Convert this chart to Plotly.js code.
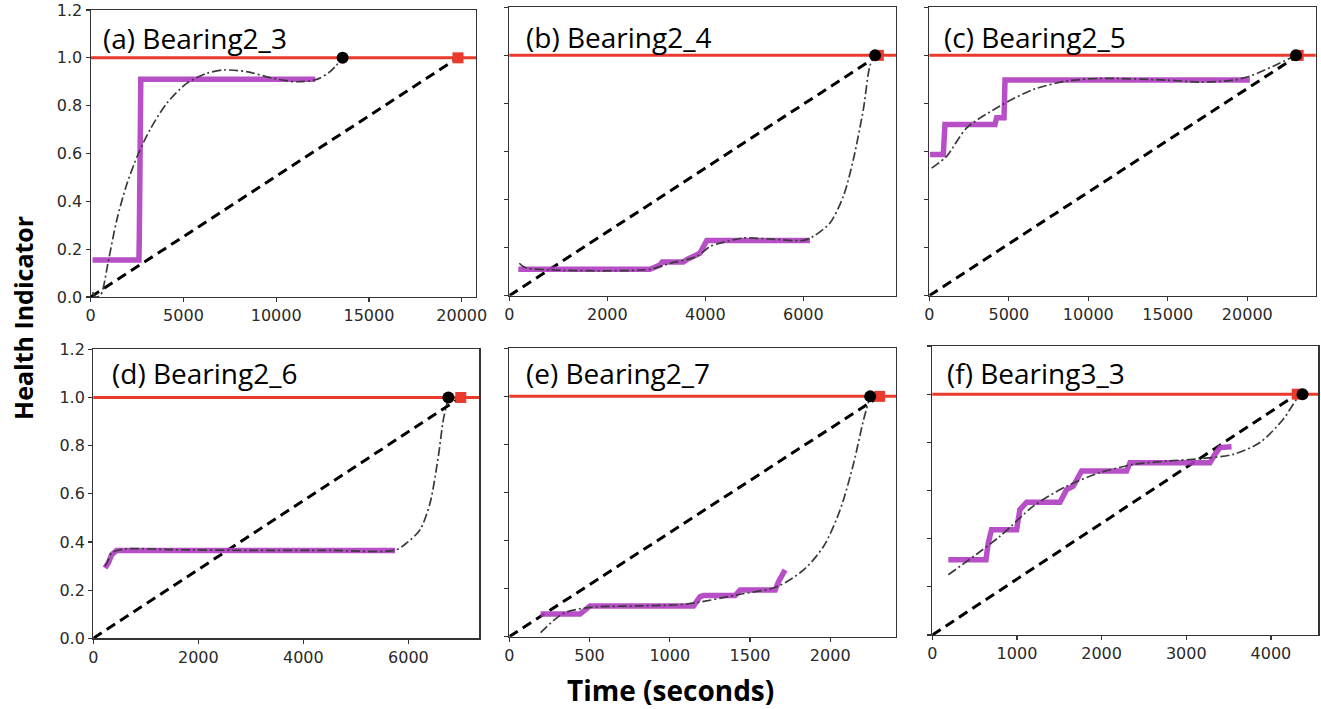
<!DOCTYPE html>
<html>
<head>
<meta charset="utf-8">
<script src="https://cdn.plot.ly/plotly-3.0.1.min.js"></script>
<style>html,body{margin:0;padding:0;background:#fff;}#chart{width:1321px;height:709px;}</style>
</head>
<body>
<div id="chart"></div>
<script>
// ---------- data ----------
const panelTitles = ["(a) Bearing2_3","(b) Bearing2_4","(c) Bearing2_5","(d) Bearing2_6","(e) Bearing2_7","(f) Bearing3_3"];
const threshold = 1.0;

// (a) Bearing2_3
const a_hiX = [100, 2600, 2620, 2630, 2640, 2650, 2660, 2680, 2700, 12100];
const a_hiY = [0.155, 0.155, 0.25, 0.40, 0.55, 0.65, 0.75, 0.85, 0.91, 0.91];
const a_fitX = [100, 300, 550, 950, 1400, 1940, 2570, 3200, 4100, 5175, 6250, 7150, 8410, 9850, 11100, 12180, 12900, 13580];
const a_fitY = [0.02, 0.0, 0.01, 0.15, 0.32, 0.47, 0.60, 0.70, 0.81, 0.893, 0.935, 0.949, 0.942, 0.914, 0.90, 0.91, 0.942, 1.0];
const a_fail = 19800, a_pred = 13580;

// (b) Bearing2_4
const b_hiX = [184, 2870, 3075, 3120, 3550, 3620, 3890, 3960, 4030, 6136];
const b_hiY = [0.110, 0.110, 0.128, 0.14, 0.14, 0.15, 0.177, 0.205, 0.23, 0.23];
const b_fitX = [204, 320, 900, 2870, 3280, 3823, 4095, 4367, 4776, 5320, 6000, 6204, 6544, 6816, 7020, 7225, 7360, 7463];
const b_fitY = [0.135, 0.117, 0.107, 0.11, 0.135, 0.163, 0.205, 0.222, 0.24, 0.236, 0.23, 0.247, 0.303, 0.414, 0.567, 0.777, 0.958, 1.0];
const b_fail = 7530, b_pred = 7463;

// (c) Bearing2_5
const c_hiX = [42, 880, 985, 4130, 4235, 4700, 4760, 20160];
const c_hiY = [0.587, 0.587, 0.712, 0.712, 0.74, 0.74, 0.897, 0.897];
const c_fitX = [147, 1090, 2350, 4440, 6540, 8640, 10730, 14920, 17020, 19120, 20170, 21630, 23060];
const c_fitY = [0.531, 0.58, 0.698, 0.789, 0.858, 0.893, 0.904, 0.897, 0.889, 0.897, 0.914, 0.955, 1.0];
const c_fail = 23200, c_pred = 23060;

// (d) Bearing2_6
const d_hiX = [222, 286, 350, 444, 5746];
const d_hiY = [0.292, 0.3125, 0.347, 0.365, 0.365];
const d_fitX = [222, 286, 350, 600, 1500, 3000, 4500, 5746, 5968, 6222, 6413, 6571, 6667, 6762];
const d_fitY = [0.30, 0.325, 0.355, 0.371, 0.368, 0.365, 0.365, 0.366, 0.396, 0.451, 0.5625, 0.757, 0.91, 1.0];
const d_fail = 6997, d_pred = 6762;

// (e) Bearing2_7
const e_hiX = [195, 441, 503, 1148, 1189, 1210, 1407, 1439, 1657, 1678, 1719];
const e_hiY = [0.094, 0.094, 0.128, 0.128, 0.167, 0.171, 0.171, 0.194, 0.194, 0.229, 0.278];
const e_fitX = [195, 337, 503, 794, 1106, 1418, 1667, 1834, 1958, 2062, 2146, 2208, 2249];
const e_fitY = [0.017, 0.097, 0.122, 0.128, 0.136, 0.174, 0.208, 0.278, 0.375, 0.528, 0.722, 0.903, 1.0];
const e_fail = 2308, e_pred = 2249;

// (f) Bearing3_3
const f_hiX = [189, 634, 661, 700, 996, 1035, 1114, 1508, 1587, 1665, 1764, 2295, 2335, 3280, 3339, 3398, 3535];
const f_hiY = [0.3125, 0.3125, 0.382, 0.4375, 0.4375, 0.521, 0.551, 0.551, 0.604, 0.618, 0.681, 0.681, 0.715, 0.715, 0.75, 0.778, 0.782];
const f_fitX = [189, 800, 1193, 1587, 1980, 2374, 2768, 3161, 3555, 3870, 4146, 4303, 4362];
const f_fitY = [0.25, 0.41, 0.535, 0.618, 0.674, 0.708, 0.722, 0.732, 0.75, 0.799, 0.896, 0.979, 1.0];
const f_fail = 4311, f_pred = 4374;

const xRanges = [[0, 20770], [0, 7890], [0, 24300], [0, 7350], [0, 2410], [0, 4560]];
const xDticks = [5000, 2000, 5000, 2000, 500, 1000];
const yTickVals = [0, 0.2, 0.4, 0.6, 0.8, 1.0, 1.2];
const yTickText = ["0.0", "0.2", "0.4", "0.6", "0.8", "1.0", "1.2"];

// ---------- layout geometry (pixels) ----------
const W = 1321, H = 709;
const boxes = [
  {l: 90.7, r: 476, t: 10, b: 297},
  {l: 509.3, r: 896, t: 7.3, b: 295.7},
  {l: 929.3, r: 1315.7, t: 7.3, b: 295.7},
  {l: 93.3, r: 479.3, t: 349.3, b: 638.3},
  {l: 509.3, r: 896, t: 348.3, b: 636.7},
  {l: 932.3, r: 1318.3, t: 346, b: 635}
];
const titlePos = [
  {x: 0.027, y: 0.902}, {x: 0.037, y: 0.898}, {x: 0.032, y: 0.898},
  {x: 0.042, y: 0.918}, {x: 0.037, y: 0.913}, {x: 0.033, y: 0.906}
];

const panels = [
  {hiX: a_hiX, hiY: a_hiY, fitX: a_fitX, fitY: a_fitY, fail: a_fail, pred: a_pred},
  {hiX: b_hiX, hiY: b_hiY, fitX: b_fitX, fitY: b_fitY, fail: b_fail, pred: b_pred},
  {hiX: c_hiX, hiY: c_hiY, fitX: c_fitX, fitY: c_fitY, fail: c_fail, pred: c_pred},
  {hiX: d_hiX, hiY: d_hiY, fitX: d_fitX, fitY: d_fitY, fail: d_fail, pred: d_pred},
  {hiX: e_hiX, hiY: e_hiY, fitX: e_fitX, fitY: e_fitY, fail: e_fail, pred: e_pred},
  {hiX: f_hiX, hiY: f_hiY, fitX: f_fitX, fitY: f_fitY, fail: f_fail, pred: f_pred}
];

const RED = '#ea3a2c', PURPLE = '#b03cc0';
const tickFont = {family: 'DejaVu Sans', size: 16, color: '#2a2a2a'};
const traces = [];
const layout = {
  width: W, height: H,
  margin: {l: 0, r: 0, t: 0, b: 0},
  paper_bgcolor: '#ffffff', plot_bgcolor: '#ffffff',
  showlegend: false,
  shapes: [], annotations: []
};

panels.forEach((p, i) => {
  const n = i + 1;
  const xa = n === 1 ? 'x' : 'x' + n;
  const ya = n === 1 ? 'y' : 'y' + n;
  const bx = boxes[i];
  layout[n === 1 ? 'xaxis' : 'xaxis' + n] = {
    domain: [bx.l / W, bx.r / W], anchor: ya,
    range: xRanges[i], dtick: xDticks[i], tick0: 0, tickformat: 'd',
    showgrid: false, zeroline: false,
    showline: true, mirror: true, linecolor: '#333', linewidth: 1.2,
    ticks: 'outside', ticklen: 4, tickwidth: 1.2, tickcolor: '#333',
    tickfont: tickFont, fixedrange: true
  };
  layout[n === 1 ? 'yaxis' : 'yaxis' + n] = {
    domain: [1 - bx.b / H, 1 - bx.t / H], anchor: xa,
    range: [0, 1.2], tickvals: yTickVals, ticktext: yTickText,
    showticklabels: (i === 0 || i === 3),
    showgrid: false, zeroline: false,
    showline: true, mirror: true, linecolor: '#333', linewidth: 1.2,
    ticks: 'outside', ticklen: 4, tickwidth: 1.2, tickcolor: '#333',
    tickfont: tickFont, fixedrange: true
  };
  // threshold line
  layout.shapes.push({type: 'line', xref: xa + ' domain', yref: ya, x0: 0, x1: 1, y0: threshold, y1: threshold,
    line: {color: RED, width: 3}, layer: 'below'});
  // dashed linear reference from origin to failure point
  traces.push({x: [0, p.fail], y: [0, threshold], xaxis: xa, yaxis: ya, mode: 'lines',
    line: {color: '#000', width: 3, dash: '10px,6px'}, hoverinfo: 'skip'});
  // health indicator
  traces.push({x: p.hiX, y: p.hiY, xaxis: xa, yaxis: ya, mode: 'lines',
    line: {color: PURPLE, width: 5.5}, opacity: 0.9, hoverinfo: 'skip'});
  // fitted curve
  traces.push({x: p.fitX, y: p.fitY, xaxis: xa, yaxis: ya, mode: 'lines',
    line: {color: '#3a3a3a', width: 1.7, dash: '9px,3px,2px,3px', shape: 'spline', smoothing: 0.8}, hoverinfo: 'skip'});
  // actual failure (red square)
  traces.push({x: [p.fail], y: [threshold], xaxis: xa, yaxis: ya, mode: 'markers',
    marker: {symbol: 'square', color: RED, size: 11}, cliponaxis: false, hoverinfo: 'skip'});
  // predicted failure (black dot)
  traces.push({x: [p.pred], y: [threshold], xaxis: xa, yaxis: ya, mode: 'markers',
    marker: {symbol: 'circle', color: '#000', size: 12}, cliponaxis: false, hoverinfo: 'skip'});
  // panel title
  layout.annotations.push({text: panelTitles[i], xref: xa + ' domain', yref: ya + ' domain',
    x: titlePos[i].x, y: titlePos[i].y, xanchor: 'left', yanchor: 'middle', showarrow: false,
    font: {family: 'Open Sans', size: 28, color: '#000'}});
});

layout.annotations.push({text: '<b>Time (seconds)</b>', xref: 'paper', yref: 'paper',
  x: 670 / W, y: 1 - 690 / H, xanchor: 'center', yanchor: 'middle', showarrow: false,
  font: {family: 'Open Sans', size: 28, color: '#000'}});
layout.annotations.push({text: '<b>Health Indicator</b>', xref: 'paper', yref: 'paper',
  x: 23 / W, y: 1 - 318 / H, xanchor: 'center', yanchor: 'middle', showarrow: false, textangle: -90,
  font: {family: 'Open Sans', size: 25, color: '#000'}});

Plotly.newPlot('chart', traces, layout, {staticPlot: true, displayModeBar: false});
</script>
</body>
</html>
